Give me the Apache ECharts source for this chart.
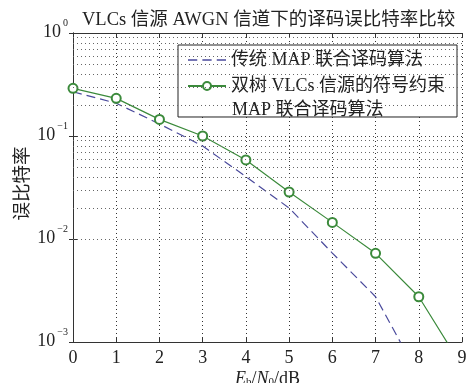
<!DOCTYPE html>
<html>
<head>
<meta charset="utf-8">
<script src="https://cdn.jsdelivr.net/npm/echarts@6/dist/echarts.min.js"></script>
<style>
  html, body { margin: 0; padding: 0; background: #fff; }
  #chart { width: 473px; height: 383px; }
</style>
</head>
<body>
<div id="chart"></div>
<script>
// Eb/N0 (dB)
const snr = [0, 1, 2, 3, 4, 5, 6, 7, 8, 9];
// 传统 MAP 联合译码算法
const berMap = [0.269, 0.208, 0.131, 0.080, 0.0403, 0.0200, 0.0073, 0.00275, 0.00047];
// 双树 VLCs 信源的符号约束 MAP 联合译码算法
const berTree = [0.290, 0.232, 0.145, 0.100, 0.0585, 0.0286, 0.0145, 0.00726, 0.00275, 0.00058];
// minor grid positions
const minorGrid = [];
[0.001, 0.01, 0.1].forEach(d => { for (let k = 2; k <= 9; k++) minorGrid.push(+(d * k).toPrecision(3)); });

const serif = 'Liberation Serif, Noto Sans CJK SC';
const names = ['传统 MAP 联合译码算法', '双树 VLCs 信源的符号约束'];
const nameTail = 'MAP 联合译码算法';
// dashed legend icon
const dashIcon = 'path://M0,0h9v1.3h-9z M14,0h9v1.3h-9z M28,0h9v1.3h-9z';

const myChart = echarts.init(document.getElementById('chart'));
myChart.setOption({
  animation: false,
  backgroundColor: '#fff',
  title: {
    text: 'VLCs 信源 AWGN 信道下的译码误比特率比较',
    left: 77,
    top: 6,
    textStyle: { fontFamily: serif, fontSize: 18.5, fontWeight: 'normal', color: '#222' }
  },
  grid: { left: 73, right: 11, top: 33, bottom: 41, outerBoundsMode: 'none' },
  legend: {
    orient: 'vertical',
    left: 178,
    top: 45,
    padding: [6, 12, 22, 9],
    itemGap: 8,
    itemWidth: 38,
    itemHeight: 10,
    backgroundColor: '#fff',
    borderColor: '#222',
    borderWidth: 1,
    textStyle: { fontFamily: serif, fontSize: 18, color: '#222' },
    data: [{ name: names[0], icon: dashIcon }, { name: names[1] }]
  },
  graphic: [{
    type: 'text',
    z: 100,
    style: {
      text: nameTail,
      x: 232, y: 110,
      verticalAlign: 'middle',
      font: '18px Liberation Serif, Noto Sans CJK SC',
      fill: '#222'
    }
  }],
  xAxis: [{
    type: 'value',
    min: 0, max: 9, interval: 1,
    name: '{i|E}{s|b}{n|/}{i|N}{s|0}{n|/dB}',
    nameLocation: 'middle',
    nameGap: 28,
    nameMoveOverlap: false,
    nameTextStyle: {
      rich: {
        i: { fontFamily: serif, fontSize: 18, fontStyle: 'italic', color: '#222' },
        s: { fontFamily: serif, fontSize: 11, color: '#222', verticalAlign: 'bottom', padding: [6, 0, 0, 0] },
        n: { fontFamily: serif, fontSize: 18, color: '#222' }
      }
    },
    axisLine: { lineStyle: { color: '#333', width: 1 } },
    axisTick: { inside: true, length: 4, lineStyle: { color: '#333' } },
    axisLabel: { fontFamily: serif, fontSize: 18, color: '#222', margin: 7 },
    splitLine: { show: true, lineStyle: { color: '#333', type: [1, 3], width: 1 } }
  }, {
    type: 'value', position: 'top',
    min: 0, max: 9, interval: 1,
    axisLine: { show: true, lineStyle: { color: '#333' } },
    axisTick: { inside: true, length: 4, lineStyle: { color: '#333' } },
    axisLabel: { show: false },
    splitLine: { show: false }
  }],
  yAxis: [{
    type: 'log',
    logBase: 10,
    min: 0.001, max: 1,
    name: '误比特率',
    nameLocation: 'middle',
    nameGap: 41,
    nameMoveOverlap: false,
    nameTextStyle: { fontFamily: serif, fontSize: 18.5, color: '#222', padding: [0, 0, 0, 8] },
    axisLine: { show: true, lineStyle: { color: '#333', width: 1 } },
    axisTick: { inside: true, length: 4, lineStyle: { color: '#333' } },
    axisLabel: {
      margin: 5,
      padding: [0, 0, 6, 0],
      formatter: v => {
        const e = Math.round(Math.log10(v));
        return '{b|10}{s|' + (e === 0 ? '0' : '\u2212' + (-e)) + '}';
      },
      rich: {
        b: { fontFamily: serif, fontSize: 18, color: '#222', verticalAlign: 'bottom', lineHeight: 23 },
        s: { fontFamily: serif, fontSize: 10, color: '#222', verticalAlign: 'top', lineHeight: 23, padding: [0, 0, 0, 2] }
      }
    },
    splitLine: { show: true, lineStyle: { color: '#444', type: [1, 3], width: 1 } }
  }, {
    type: 'log',
    logBase: 10,
    min: 0.001, max: 1,
    position: 'right',
    axisLine: { show: true, lineStyle: { color: '#333' } },
    axisTick: { inside: true, length: 4, lineStyle: { color: '#333' } },
    axisLabel: { show: false },
    splitLine: { show: false }
  }],
  series: [{
    name: names[0],
    type: 'line',
    data: berMap.map((v, i) => [snr[i], v]),
    showSymbol: false,
    symbol: 'none',
    clip: true,
    lineStyle: { color: '#4a4a9c', width: 1.2, type: [9, 5] },
    itemStyle: { color: '#4a4a9c' },
    markLine: {
      silent: true,
      symbol: 'none',
      label: { show: false },
      lineStyle: { color: '#666', type: [1, 3], width: 1 },
      data: minorGrid.map(v => ({ yAxis: v }))
    },
    z: 3
  }, {
    name: names[1],
    type: 'line',
    data: berTree.map((v, i) => [snr[i], v]),
    symbol: 'emptyCircle',
    symbolSize: 9,
    clip: true,
    lineStyle: { color: '#3b8a3b', width: 1.2 },
    itemStyle: { color: '#3b8a3b', borderWidth: 1.2 },
    z: 4
  }]
});

window.addEventListener('resize', function () {
  myChart.resize();
});
</script>
</body>
</html>
